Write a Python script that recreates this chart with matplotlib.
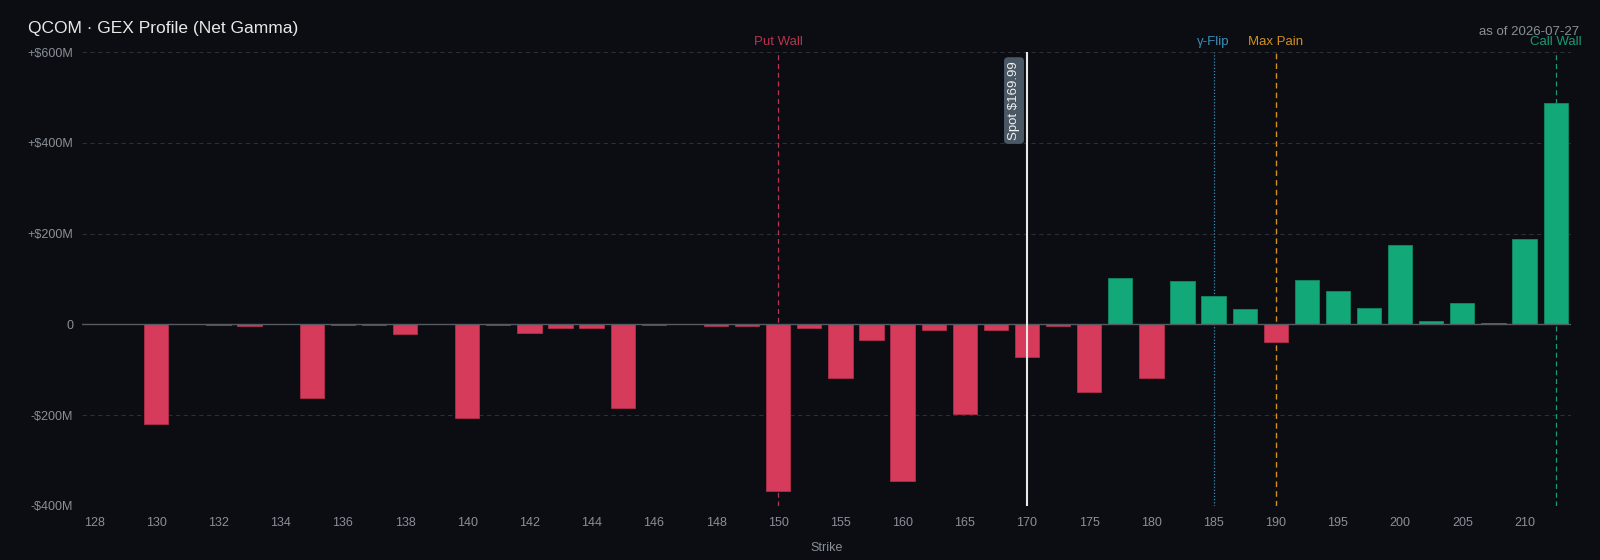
import matplotlib
matplotlib.use("Agg")
import matplotlib.pyplot as plt
import numpy as np

plt.rcParams['font.family'] = ['Liberation Sans', 'DejaVu Sans']

# strikes (categorical axis) and net gamma exposure in $M
strikes = [128, 129, 130, 131, 132, 133, 134, 135, 136, 137, 138, 139, 140,
           141, 142, 143, 144, 145, 146, 147, 148, 149, 150,
           152.5, 155, 157.5, 160, 162.5, 165, 167.5, 170, 172.5, 175, 177.5,
           180, 182.5, 185, 187.5, 190, 192.5, 195, 197.5, 200, 202.5, 205,
           207.5, 210, 212.5]
gex = [0, 0, -219, 0, -2, -3, 0, -162, -1, -1, -22, 0, -206,
       -2, -20, -7, -8, -184, -1, 0, -3, -3, -368,
       -7, -118, -35, -346, -12, -198, -12, -72, -4, -150, 102,
       -119, 95, 63, 35, -38, 97, 74, 37, 176, 8, 48,
       3, 189, 487]

tick_labels = ["128", "130", "132", "134", "136", "138", "140", "142", "144",
               "146", "148", "150", "155", "160", "165", "170", "175", "180",
               "185", "190", "195", "200", "205", "210"]

spot = 169.99
put_wall = 150
gamma_flip = 185
max_pain = 190
call_wall = 212.5

BG = "#0b0d12"
RED = "#d63b5b"
GREEN = "#13a877"
TXT = "#8a8f98"


def strike_pos(k):
    # position of a strike on the categorical axis (interpolated)
    return float(np.interp(k, strikes, np.arange(len(strikes))))


fig = plt.figure(figsize=(16, 5.6), dpi=100, facecolor=BG)
ax = fig.add_axes([0.051, 0.0965, 0.931, 0.8105])
ax.set_facecolor(BG)

x = np.arange(len(strikes))
colors = [GREEN if v > 0 else RED for v in gex]
edges = ["#0f8a62" if v > 0 else "#b02e4a" for v in gex]
ax.bar(x, gex, width=0.78, color=colors, edgecolor=edges, linewidth=0.6, zorder=3)

ax.set_xlim(-0.4, 47.5)
ax.set_ylim(-400, 600)
ax.set_yticks([-400, -200, 0, 200, 400, 600])
ax.set_yticklabels(["-$400M", "-$200M", "0", "+$200M", "+$400M", "+$600M"])
ax.set_xticks(x[::2])
ax.set_xticklabels(tick_labels)

ax.grid(axis="y", color="#2a2e36", linestyle=(0, (4, 3)), linewidth=0.8, zorder=0)
ax.axhline(0, color="#555a63", linewidth=1.0, zorder=4)
for s in ax.spines.values():
    s.set_visible(False)
ax.tick_params(colors=TXT, length=0)
ax.tick_params(axis="x", labelsize=9, pad=8)
ax.tick_params(axis="y", labelsize=9, pad=6)
ax.set_xlabel("Strike", color=TXT, fontsize=9, labelpad=9)

# key levels
levels = [
    (put_wall, "Put Wall", "#b8334f", (0, (4, 3)), 0.9),
    (gamma_flip, "γ-Flip", "#3a8fb7", (0, (1, 1.5)), 0.9),
    (max_pain, "Max Pain", "#d4901a", (0, (4, 3)), 1.0),
    (call_wall, "Call Wall", "#1a9a70", (0, (4, 3)), 0.9),
]
for k, name, c, ls, lw in levels:
    px = strike_pos(k)
    ax.axvline(px, color=c, linestyle=ls, linewidth=lw, zorder=2)
    ax.text(px, 1.008, name, transform=ax.get_xaxis_transform(), color=c,
            fontsize=9.5, ha="center", va="bottom")

sp = strike_pos(spot)
ax.axvline(sp, color="#e8e8e8", linewidth=1.5, zorder=5)
ax.text(sp - 0.22, 580, "Spot $%.2f" % spot, rotation=90, color="#f0f0f0",
        fontsize=9.5, ha="right", va="top", zorder=6,
        bbox=dict(boxstyle="round,pad=0.3,rounding_size=0.3",
                  facecolor="#4a5866", edgecolor="none"))

fig.text(0.0175, 0.949, "QCOM · GEX Profile (Net Gamma)", color="#e8e8e8",
         fontsize=12.5, ha="left", va="center")
fig.text(0.987, 0.942, "as of 2026-07-27", color=TXT, fontsize=9.5,
         ha="right", va="center")

fig.savefig("out.png", dpi=100, facecolor=BG)
